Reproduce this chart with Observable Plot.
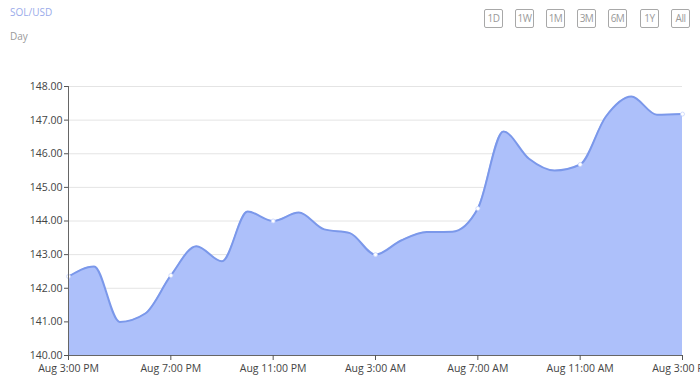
<!DOCTYPE html>
<html>
<head>
<meta charset="utf-8">
<script src="https://cdn.jsdelivr.net/npm/d3@7"></script>
<script src="https://cdn.jsdelivr.net/npm/@observablehq/plot@0.6"></script>
<style>
  html, body { margin: 0; padding: 0; background: #fff; width: 700px; height: 389px; overflow: hidden; font-family: "Open Sans", "Liberation Sans", sans-serif; }
  #header { position: relative; height: 60px; }
  #title { position: absolute; left: 10px; top: 5px; font-size: 10px; color: #9aabea; }
  #sub { position: absolute; left: 10px; top: 29px; font-size: 10px; color: #9a9a9a; }
  .btn { position: absolute; top: 9px; width: 19px; height: 19px; box-sizing: border-box; border: 1px solid #a8a8a8; border-radius: 2px; font-size: 10px; color: #9a9a9a; text-align: center; line-height: 17px; letter-spacing: -0.5px; }
  #chart { position: relative; }
</style>
</head>
<body>
<div id="header">
  <div id="title">SOL/USD</div>
  <div id="sub">Day</div>
  <div id="buttons"></div>
</div>
<div id="chart"></div>
<script>
const times = [
  "2024-08-01T15:00","2024-08-01T16:00","2024-08-01T17:00","2024-08-01T18:00",
  "2024-08-01T19:00","2024-08-01T20:00","2024-08-01T21:00","2024-08-01T22:00",
  "2024-08-01T23:00","2024-08-02T00:00","2024-08-02T01:00","2024-08-02T02:00",
  "2024-08-02T03:00","2024-08-02T04:00","2024-08-02T05:00","2024-08-02T06:00",
  "2024-08-02T07:00","2024-08-02T08:00","2024-08-02T09:00","2024-08-02T10:00",
  "2024-08-02T11:00","2024-08-02T12:00","2024-08-02T13:00","2024-08-02T14:00",
  "2024-08-02T15:00"
];
const prices = [
  142.35, 142.65, 141.0, 141.25,
  142.38, 143.25, 142.8, 144.28,
  144.0, 144.25, 143.75, 143.64,
  143.0, 143.42, 143.67, 143.68,
  144.37, 146.66, 145.85, 145.5,
  145.68, 147.1, 147.7, 147.16,
  147.18
];
const markerTimes = ["2024-08-01T15:00","2024-08-01T19:00","2024-08-01T23:00","2024-08-02T03:00","2024-08-02T07:00","2024-08-02T11:00","2024-08-02T15:00"];
const yTicks = [140, 141, 142, 143, 144, 145, 146, 147, 148];
const buttons = ["1D", "1W", "1M", "3M", "6M", "1Y", "All"];
const buttonLeft = [484, 515, 546, 577, 608, 640, 671];

const parse = d3.timeParse("%Y-%m-%dT%H:%M");
const data = times.map((t, i) => ({time: parse(t), price: prices[i]}));
const markerSet = new Set(markerTimes);
const markers = data.filter((d, i) => markerSet.has(times[i]));
const xTicks = markerTimes.map(parse);

const bw = document.getElementById("buttons");
buttons.forEach((b, i) => {
  const el = document.createElement("div");
  el.className = "btn";
  el.style.left = buttonLeft[i] + "px";
  el.textContent = b;
  bw.appendChild(el);
});

const fmt = d3.timeFormat("%b %-I:%M %p");

const chart = Plot.plot({
  width: 700,
  height: 329,
  marginTop: 26,
  marginBottom: 34,
  marginLeft: 68,
  marginRight: 18,
  style: {fontFamily: "'Open Sans', 'Liberation Sans', sans-serif", fontSize: "10.5px", color: "#444", overflow: "visible"},
  x: {type: "time", domain: [xTicks[0], xTicks[xTicks.length - 1]], label: null},
  y: {domain: [140, 148], label: null},
  marks: [
    Plot.gridY(yTicks, {stroke: "#e4e4e4", strokeOpacity: 1}),
    Plot.areaY(data, {x: "time", y1: 140, y2: "price", fill: "#adc0fa", fillOpacity: 1, curve: "monotone-x"}),
    Plot.lineY(data, {x: "time", y: "price", stroke: "#7b98ea", strokeWidth: 2, curve: "monotone-x"}),
    Plot.dot(markers, {x: "time", y: "price", r: 2, fill: "#fff", stroke: "#c8d4fb", strokeWidth: 0.8}),
    Plot.axisY(yTicks, {tickFormat: d => d.toFixed(2), tickSize: 4, tickPadding: 2, stroke: "#555", fill: "#444", label: null}),
    Plot.ruleX([xTicks[0]], {stroke: "#666", strokeWidth: 1}),
    Plot.ruleY([140], {stroke: "#666", strokeWidth: 1}),
    Plot.axisX(xTicks, {tickFormat: fmt, tickSize: 5, tickPadding: 4, stroke: "#555", fill: "#444", label: null})
  ]
});
document.getElementById("chart").appendChild(chart);
</script>
</body>
</html>
